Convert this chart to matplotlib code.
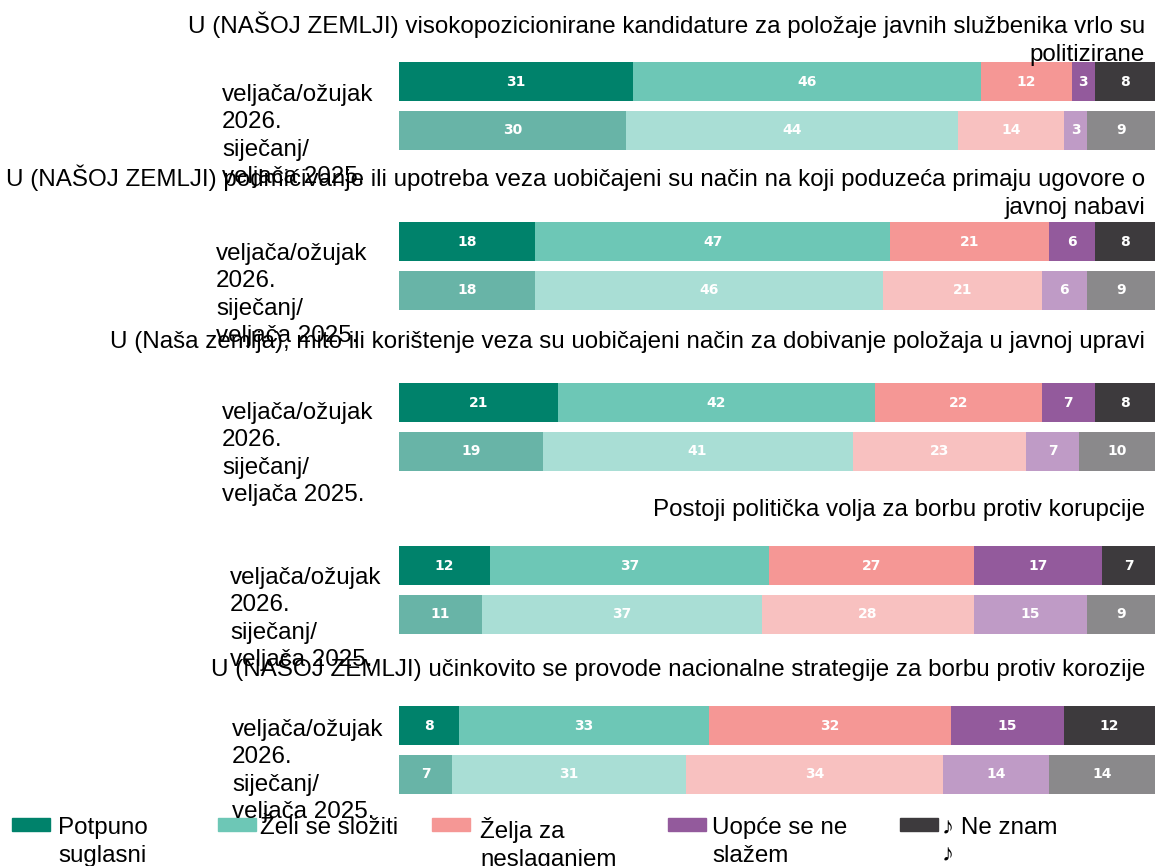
import matplotlib
matplotlib.use("Agg")
import matplotlib.pyplot as plt
from matplotlib.patches import Rectangle

plt.rcParams["font.family"] = ["Liberation Sans", "DejaVu Sans"]

# Podaci (postoci), redoslijed kategorija kao u legendi
titles = [
    "U (NAŠOJ ZEMLJI) visokopozicionirane kandidature za položaje javnih službenika vrlo su\npolitizirane",
    "U (NAŠOJ ZEMLJI) podmićivanje ili upotreba veza uobičajeni su način na koji poduzeća primaju ugovore o\njavnoj nabavi",
    "U (Naša zemlja), mito ili korištenje veza su uobičajeni način za dobivanje položaja u javnoj upravi",
    "Postoji politička volja za borbu protiv korupcije",
    "U (NAŠOJ ZEMLJI) učinkovito se provode nacionalne strategije za borbu protiv korozije",
]
period_label = "veljača/ožujak\n2026.\nsiječanj/\nveljača 2025."
categories = ["Potpuno\nsuglasni", "Želi se složiti", "Želja za\nneslaganjem",
              "Uopće se ne\nslažem", "♪ Ne znam\n♪"]
vals_2026 = [
    [31, 46, 12, 3, 8],
    [18, 47, 21, 6, 8],
    [21, 42, 22, 7, 8],
    [12, 37, 27, 17, 7],
    [8, 33, 32, 15, 12],
]
vals_2025 = [
    [30, 44, 14, 3, 9],
    [18, 46, 21, 6, 9],
    [19, 41, 23, 7, 10],
    [11, 37, 28, 15, 9],
    [7, 31, 34, 14, 14],
]

colors_2026 = ["#00826b", "#6dc7b6", "#f59795", "#935a9c", "#3d3a3d"]
colors_2025 = ["#68b4a7", "#a9ded5", "#f8c1c0", "#bf9bc6", "#8a898b"]

W, H = 1155, 866
fig = plt.figure(figsize=(W / 100, H / 100), dpi=100)
FS = 17.4
LS = 1.33


def fx(px):
    return px / W


def fy(px):
    return 1 - px / H


# pozicije panela (px)
panel_top = [62, 222, 383, 546, 706]
title_y = [39, 192, 342, 510, 668]
label_x = [222, 216, 222, 230, 232]
label_y = [136, 295, 454, 619, 771]
bar_left = 399
panel_h = 88

for i in range(len(titles)):
    ax = fig.add_axes([fx(bar_left), fy(panel_top[i] + panel_h),
                       fx(W - bar_left), panel_h / H])
    for row, (vals, cols) in enumerate([(vals_2026[i], colors_2026),
                                        (vals_2025[i], colors_2025)]):
        left = 0
        for v, c in zip(vals, cols):
            ax.barh(row, v, left=left, height=0.8, color=c, edgecolor="none")
            ax.text(left + v / 2, row, str(v), ha="center", va="center",
                    color="white", fontsize=10, fontweight="bold",
                    family=["DejaVu Sans"])
            left += v
    ax.set_xlim(0, 100)
    ax.set_ylim(1.4, -0.4)
    ax.axis("off")

    fig.text(fx(1145), fy(title_y[i]), titles[i], ha="right", va="center",
             multialignment="right", fontsize=FS, linespacing=LS)
    fig.text(fx(label_x[i]), fy(label_y[i]), period_label, ha="left",
             va="center", fontsize=FS, linespacing=LS)

# legenda
patch_x = [12, 218, 432, 668, 900]
text_x = [58, 260, 480, 712, 942]
for px, tx, lab, c in zip(patch_x, text_x, categories, colors_2026):
    fig.patches.append(Rectangle((fx(px), fy(831)), 38 / W, 13 / H,
                                 transform=fig.transFigure, color=c))
    fig.text(fx(tx), fy(817), lab, ha="left", va="top", fontsize=FS,
             linespacing=LS)

fig.savefig("out.png", dpi=100)
